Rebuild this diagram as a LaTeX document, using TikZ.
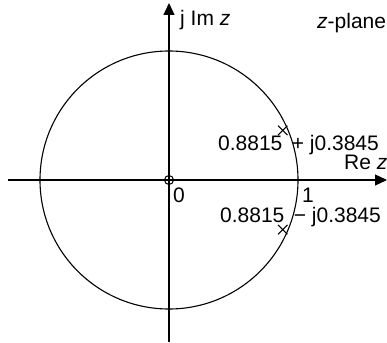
\documentclass[tikz,border=0pt]{standalone}
\usepackage{fontspec}
\setmainfont{Liberation Sans}
\usetikzlibrary{arrows.meta}
\begin{document}
\begin{tikzpicture}[x=1pt,y=-1pt,
  axis/.style={line width=1.3pt,-{Triangle[length=12pt,width=11pt]}},
  lbl/.style={inner sep=0pt,anchor=base west,font=\fontsize{21}{25}\selectfont},
  pole/.style={line width=1pt}]
\useasboundingbox (0,0) rectangle (387,342);
\coordinate (O) at (169,180);
\coordinate (xl) at (8,180);
\coordinate (xr) at (387,180);
\coordinate (yb) at (169,342);
\coordinate (yt) at (169,3);
\draw[axis] (xl) -- (xr);
\draw[axis] (yb) -- (yt);
\draw[line width=1.1pt] (O) circle[radius=129];
\node[draw,circle,line width=1pt,minimum size=9pt,inner sep=0pt] (zero) at (O) {};
\draw[line width=0.8pt] (zero.north) -- (zero.south) (zero.west) -- (zero.east);
\node[inner sep=0pt,minimum size=9pt] (p1) at (282.7,130.4) {};
\node[inner sep=0pt,minimum size=9pt] (p2) at (282.7,229.6) {};
\draw[pole] (p1.north west) -- (p1.south east) (p1.north east) -- (p1.south west);
\draw[pole] (p2.north west) -- (p2.south east) (p2.north east) -- (p2.south west);
\node[lbl] (im) at (180,26) {j Im \textit{z}};
\node[lbl] (pl) at (317,29) {\textit{z}-plane};
\node[lbl] (re) at (344,169) {Re \textit{z}};
\node[lbl] (l0) at (173,202) {0};
\node[lbl] (l1) at (302,202) {1};
\node[lbl] (lp) at (218,150) {0.8815\hspace{0.45em}+ j0.3845};
\node[lbl] (lm) at (220,222) {0.8815\hspace{0.45em}− j0.3845};
\end{tikzpicture}
\end{document}
